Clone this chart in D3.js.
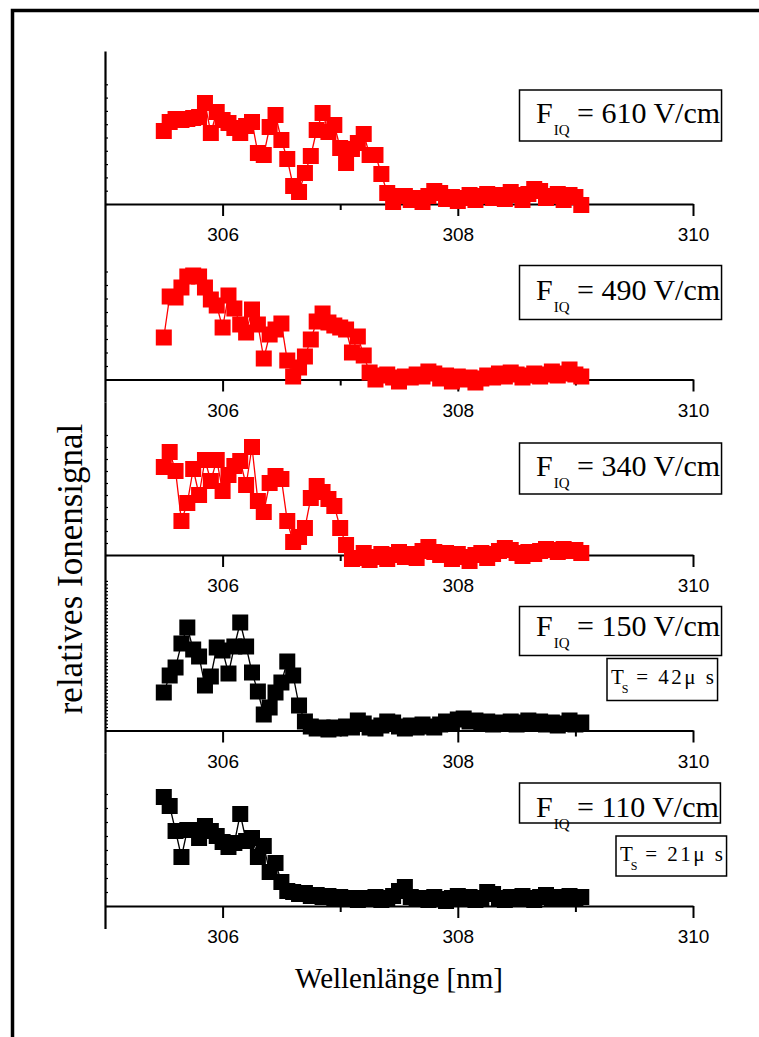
<!DOCTYPE html>
<html>
<head>
<meta charset="utf-8">
<script src="https://cdn.jsdelivr.net/npm/d3@7"></script>
<style>
  body { margin: 0; background: #fff; }
  svg { display: block; }
</style>
</head>
<body>
<svg id="chart"></svg>
<script>
// wavelength grid of the scans [nm]
const wavelength = [
  305.50, 305.55, 305.60, 305.65, 305.70, 305.75, 305.80, 305.85, 305.90, 305.95,
  306.00, 306.05, 306.10, 306.15, 306.20, 306.25, 306.30, 306.35, 306.40, 306.45,
  306.50, 306.55, 306.60, 306.65, 306.70, 306.75, 306.80, 306.85, 306.90, 306.95,
  307.00, 307.05, 307.10, 307.15, 307.20, 307.25, 307.30, 307.35, 307.40, 307.45,
  307.50, 307.55, 307.60, 307.65, 307.70, 307.75, 307.80, 307.85, 307.90, 307.95,
  308.00, 308.05, 308.10, 308.15, 308.20, 308.25, 308.30, 308.35, 308.40, 308.45,
  308.50, 308.55, 308.60, 308.65, 308.70, 308.75, 308.80, 308.85, 308.90, 308.95,
  309.00, 309.05
];

// relative ion signal (arb. units), one array per field strength
const signal610 = [
  73, 82, 85, 84, 85, 86, 87, 101, 71, 92, 84, 81, 76, 71, 78, 82, 51, 49, 77, 89,
  64, 45, 18, 12, 31, 48, 74, 91, 72, 79, 56, 41, 55, 61, 70, 49, 49, 30, 11, 2,
  8, 8, 4, 6, 2, 8, 13, 11, 5, 7, 3, 6, 9, 4, 8, 10, 6, 9, 5, 12,
  9, 4, 10, 15, 13, 6, 8, 10, 4, 9, 7, -1
];
const signal490 = [
  42, 83, 82, 92, 103, 104, 103, 92, 80, 74, 52, 84, 71, 55, 47, 70, 55, 21, 45, 50,
  56, 19, 3, 12, 23, 40, 58, 66, 57, 54, 52, 50, 27, 43, 24, 7, 0, 4, 5, 2,
  -2, 3, 2, 5, 3, 8, 6, 1, 4, -2, 3, 0, 2, -3, 1, 4, 2, 6, 3, 7,
  5, 2, 4, 6, 3, 5, 8, 4, 6, 10, 5, 3
];
const signal340 = [
  88, 103, 84, 34, 52, 86, 60, 95, 74, 95, 64, 80, 89, 94, 70, 108, 54, 43, 72, 79,
  76, 34, 13, 18, 27, 57, 69, 63, 56, 49, 27, 10, -4, -3, 2, -5, -2, 1, -4, 0,
  3, -2, 1, -3, 4, 8, 3, 0, 2, -4, 1, -2, -6, 0, 2, -3, 1, 4, 7, 5,
  2, -1, 3, 1, 4, 6, 5, 3, 6, 4, 5, 2
];
const signal150 = [
  38, 55, 63, 87, 103, 81, 74, 45, 54, 83, 80, 57, 84, 108, 84, 58, 39, 16, 23, 38,
  48, 69, 55, 25, 9, 4, 2, 3, 1, 3, 2, 4, 3, 10, 7, 3, 2, 5, 9, 8,
  4, 2, 5, 3, 6, 4, 3, 6, 9, 8, 11, 12, 9, 10, 7, 9, 6, 8, 7, 9,
  6, 8, 10, 7, 9, 6, 8, 5, 7, 10, 6, 8
];
const signal110 = [
  109, 100, 75, 49, 76, 76, 68, 80, 75, 70, 64, 59, 63, 92, 65, 68, 49, 60, 34, 43,
  24, 15, 14, 12, 13, 10, 11, 9, 10, 8, 9, 7, 8, 6, 8, 7, 9, 6, 8, 10,
  15, 19, 9, 7, 8, 6, 9, 7, 5, 8, 10, 7, 9, 6, 8, 14, 12, 8, 6, 9,
  7, 10, 8, 6, 9, 11, 7, 9, 8, 10, 7, 9
];

const fieldStrengths = ['610', '490', '340', '150', '110'];
const storageTimes = [null, null, null, '42', '21'];
const seriesColors = ['#ff0000', '#ff0000', '#ff0000', '#000000', '#000000'];

const xMajorTicks = [306, 308, 310];
const xMinorTicks = [307, 309];

class StackedSpectra {

  constructor(_config, _data) {
    this.config = {
      parentElement: _config.parentElement,
      containerWidth: 759,
      containerHeight: 1037,
      plotLeft: 105,
      plotRight: 693,
      plotTop: 51,
      panelHeight: 175.5,
      zeroOffset: 153,
      markerSize: 16,
      // minor tick spacing on the unlabeled signal axes
      yTickStep: [13.3, 13.5, 12, 3.4, 14],
      yTickTop: [120, 108, 120, 150, 112],
      // label boxes, measured from the zero line of each panel
      labelTop: [114, 114, 112, 124, 123],
      labelHeight: [51, 54, 51, 49, 40],
      labelBaseline: [33, 34, 33, 29, 34],
      timeLeft: [0, 0, 0, 607, 616],
      timeTop: [0, 0, 0, 72, 70],
      timeHeight: [0, 0, 0, 42, 40],
      serif: '"Liberation Serif", "Times New Roman", serif',
      sans: '"Liberation Sans", Arial, sans-serif'
    };
    this.data = _data;
    this.initVis();
  }

  initVis() {
    let vis = this;

    vis.svg = d3.select(vis.config.parentElement)
        .attr('width', vis.config.containerWidth)
        .attr('height', vis.config.containerHeight);

    vis.svg.append('rect')
        .attr('width', vis.config.containerWidth)
        .attr('height', vis.config.containerHeight)
        .attr('fill', '#fff');

    // cropped page frame (top + left edge only)
    vis.svg.append('path')
        .attr('d', `M12.5,${vis.config.containerHeight}V10.5H${vis.config.containerWidth}`)
        .attr('fill', 'none')
        .attr('stroke', '#000')
        .attr('stroke-width', 3.5);

    vis.xScale = d3.scaleLinear()
        .domain([305, 310])
        .range([vis.config.plotLeft, vis.config.plotRight]);

    vis.chart = vis.svg.append('g');

    vis.updateVis();
  }

  updateVis() {
    let vis = this;

    vis.panels = vis.data.map((d, i) => {
      const top = vis.config.plotTop + i * vis.config.panelHeight;
      const zero = top + vis.config.zeroOffset;
      const yScale = d3.scaleLinear()
          .domain([-(vis.config.panelHeight - vis.config.zeroOffset), vis.config.zeroOffset])
          .range([top + vis.config.panelHeight, top]);
      const points = wavelength.map((w, j) => ({ x: w, y: d.values[j] }));
      return { ...d, index: i, zero, yScale, points };
    });

    vis.renderVis();
  }

  renderVis() {
    let vis = this;
    const c = vis.config;

    const panel = vis.chart.selectAll('.panel')
        .data(vis.panels)
        .join('g')
        .attr('class', 'panel');

    panel.each(function(p) {
      const g = d3.select(this);

      // signal axis with minor ticks only
      const yAxis = d3.axisLeft(p.yScale)
          .tickValues(d3.range(0, c.yTickTop[p.index] + 0.01, c.yTickStep[p.index]))
          .tickSize(-3)
          .tickSizeOuter(0)
          .tickFormat('');
      const yG = g.append('g')
          .attr('transform', `translate(${c.plotLeft},0)`)
          .call(yAxis);
      yG.select('.domain').attr('stroke-width', 2.2);
      yG.selectAll('.tick line').attr('stroke-width', 1.2);

      // wavelength axis
      const xAxis = d3.axisBottom(vis.xScale)
          .tickValues(xMajorTicks)
          .tickSize(12)
          .tickSizeOuter(0)
          .tickPadding(12)
          .tickFormat(d3.format('d'));
      const xG = g.append('g')
          .attr('transform', `translate(0,${p.zero})`)
          .call(xAxis);
      xG.select('.domain').attr('stroke-width', 2);
      xG.selectAll('.tick line').attr('stroke-width', 2);
      xG.selectAll('.tick text')
          .style('font-family', c.sans)
          .style('font-size', '19px')
          .attr('fill', '#000');

      const xMinor = d3.axisBottom(vis.xScale)
          .tickValues(xMinorTicks)
          .tickSize(6)
          .tickSizeOuter(0)
          .tickFormat('');
      const xmG = g.append('g')
          .attr('transform', `translate(0,${p.zero})`)
          .call(xMinor);
      xmG.select('.domain').remove();
      xmG.selectAll('.tick line').attr('stroke-width', 2);

      // connecting line + square symbols
      const line = d3.line()
          .x(d => vis.xScale(d.x))
          .y(d => p.yScale(d.y));

      g.append('path')
          .datum(p.points)
          .attr('d', line)
          .attr('fill', 'none')
          .attr('stroke', p.color)
          .attr('stroke-width', 1.3);

      g.selectAll('.marker')
          .data(p.points)
          .join('rect')
          .attr('class', 'marker')
          .attr('x', d => vis.xScale(d.x) - c.markerSize / 2)
          .attr('y', d => p.yScale(d.y) - c.markerSize / 2)
          .attr('width', c.markerSize)
          .attr('height', c.markerSize)
          .attr('fill', p.color);

      // field strength label
      const boxTop = p.zero - c.labelTop[p.index];
      const lab = g.append('g');
      const txt = lab.append('text')
          .attr('x', 536)
          .attr('y', boxTop + c.labelBaseline[p.index])
          .style('font-family', c.serif)
          .style('font-size', '30px')
          .attr('fill', '#000');
      txt.append('tspan').text('F');
      txt.append('tspan')
          .attr('dy', 12)
          .attr('dx', 1)
          .style('font-size', '15px')
          .text('IQ');
      txt.append('tspan')
          .attr('dy', -12)
          .text(` = ${p.field} V/cm`);
      const bb = txt.node().getBBox();
      lab.insert('rect', 'text')
          .attr('x', 519.5)
          .attr('y', boxTop)
          .attr('width', bb.x + bb.width + 1.5 - 519.5)
          .attr('height', c.labelHeight[p.index])
          .attr('fill', '#fff')
          .attr('stroke', '#000')
          .attr('stroke-width', 1.5);

      // storage time label
      if (p.time) {
        const tTop = p.zero - c.timeTop[p.index];
        const tl = g.append('g');
        const tt = tl.append('text')
            .attr('x', c.timeLeft[p.index] + 4)
            .attr('y', tTop + 25)
            .style('font-family', c.serif)
            .style('font-size', '21px')
            .attr('fill', '#000');
        tt.append('tspan').text('T');
        tt.append('tspan')
            .attr('dy', 9)
            .attr('dx', -2)
            .style('font-size', '12px')
            .text('S');
        tt.append('tspan')
            .attr('dy', -9)
            .style('letter-spacing', '2.5px')
            .text(` = ${p.time}\u03bc s`);
        const tb = tt.node().getBBox();
        tl.insert('rect', 'text')
            .attr('x', c.timeLeft[p.index])
            .attr('y', tTop)
            .attr('width', tb.x + tb.width + 1 - c.timeLeft[p.index])
            .attr('height', c.timeHeight[p.index])
            .attr('fill', '#fff')
            .attr('stroke', '#000')
            .attr('stroke-width', 1.5);
      }
    });

    // axis titles
    vis.svg.append('text')
        .attr('x', 399)
        .attr('y', 988)
        .attr('text-anchor', 'middle')
        .style('font-family', c.serif)
        .style('font-size', '29px')
        .text('Wellenlänge [nm]');

    vis.svg.append('text')
        .attr('transform', 'translate(82,569) rotate(-90)')
        .attr('text-anchor', 'middle')
        .style('font-family', c.serif)
        .style('font-size', '35px')
        .text('relatives Ionensignal');
  }
}

const panelData = [signal610, signal490, signal340, signal150, signal110].map((values, i) => ({
  values: values,
  field: fieldStrengths[i],
  time: storageTimes[i],
  color: seriesColors[i]
}));

const chart = new StackedSpectra({ parentElement: '#chart' }, panelData);
</script>
</body>
</html>
